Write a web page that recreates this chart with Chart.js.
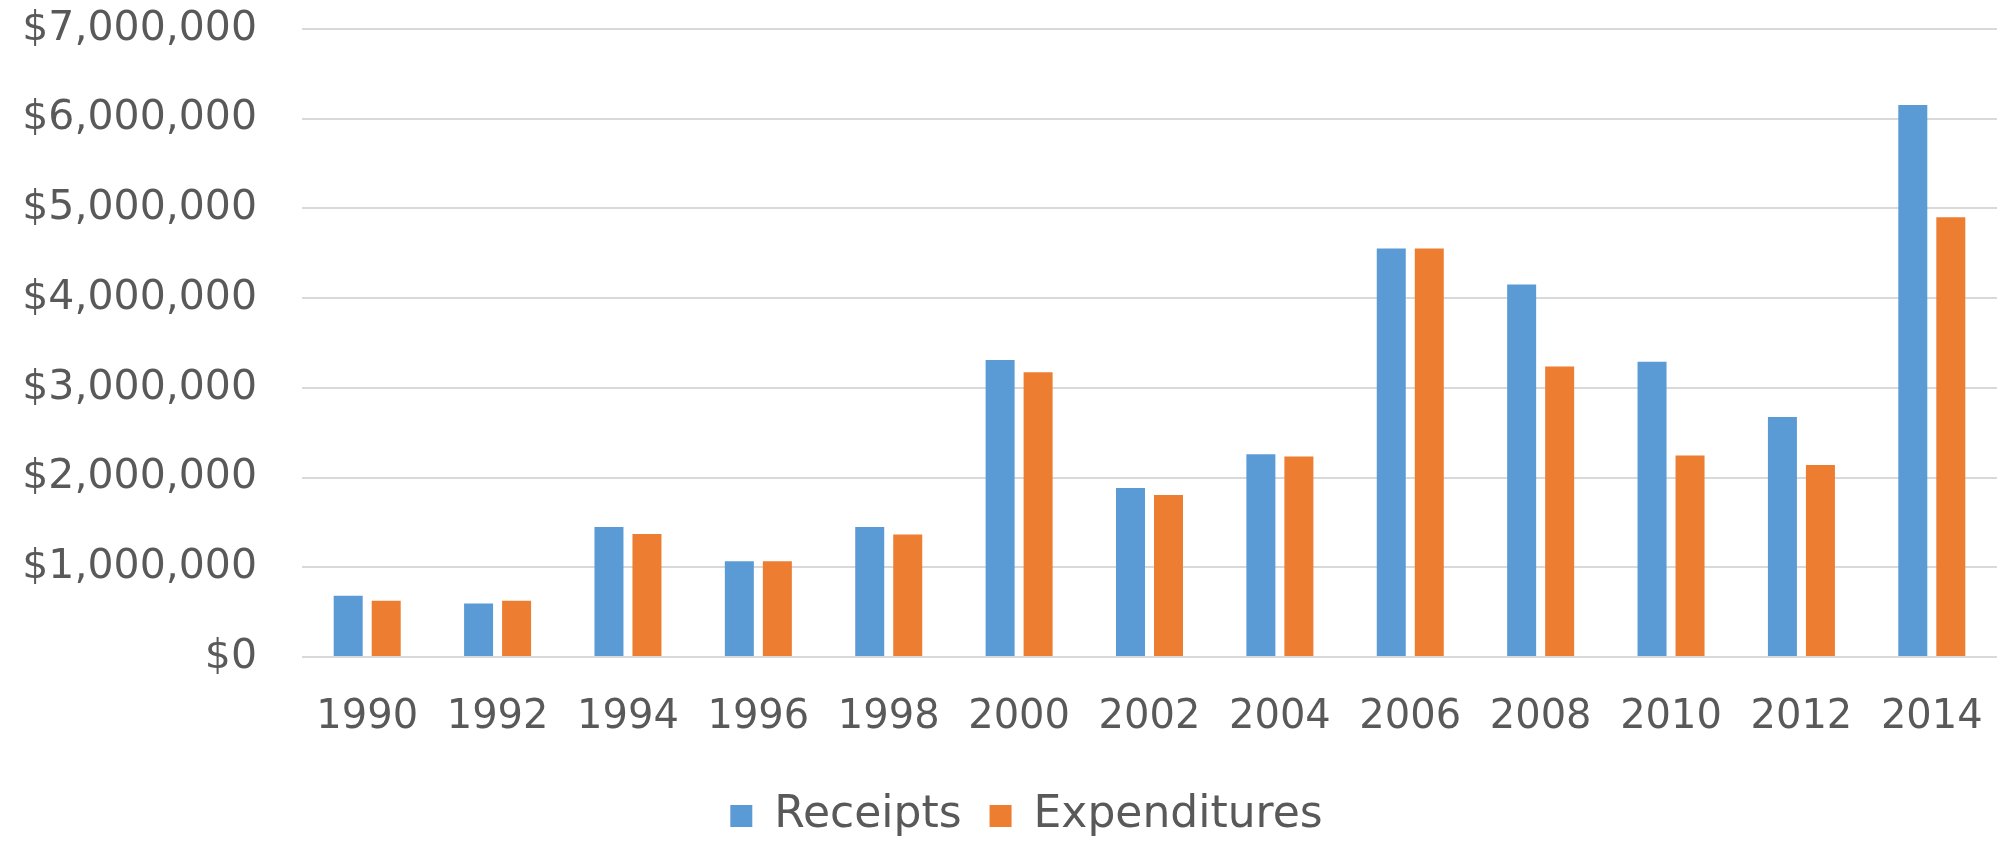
<!DOCTYPE html>
<html>
<head>
<meta charset="utf-8">
<script src="https://cdn.jsdelivr.net/npm/chart.js@4.4.0/dist/chart.umd.min.js"></script>
<style>
  body { margin: 0; background: #fff; }
  #wrap { width: 2010px; height: 843px; }
</style>
</head>
<body>
<div id="wrap"><canvas id="myBarChart" width="2010" height="843"></canvas></div>
<script>
var years = ['1990', '1992', '1994', '1996', '1998', '2000', '2002', '2004', '2006', '2008', '2010', '2012', '2014'];
var receipts = [683000, 597000, 1449000, 1068000, 1449000, 3310000, 1885000, 2260000, 4553000, 4152000, 3292000, 2675000, 6154000];
var expenditures = [627000, 627000, 1370000, 1068000, 1366000, 3175000, 1807000, 2234000, 4553000, 3237000, 2247000, 2139000, 4903000];

var textColor = '#595959';
var tickFont = { family: 'DejaVu Sans', size: 40 };

// nudge the legend a bit right/down like the original excel layout
var legendNudge = {
    id: 'legendNudge',
    afterLayout: function(chart) {
        var lg = chart.legend;
        lg.left += 28; lg.right += 28;
        lg.top += 5; lg.bottom += 5;
    }
};

var ctx = document.getElementById('myBarChart').getContext('2d');
var myBarChart = new Chart(ctx, {
    type: 'bar',
    data: {
        labels: years,
        datasets: [{
            label: 'Receipts',
            data: receipts,
            backgroundColor: '#5B9BD5'
        }, {
            label: 'Expenditures',
            data: expenditures,
            backgroundColor: '#ED7D31'
        }]
    },
    options: {
        responsive: false,
        animation: false,
        categoryPercentage: 0.583,
        barPercentage: 0.763,
        layout: {
            padding: { top: 29, right: 13, left: 0, bottom: 0 }
        },
        scales: {
            x: {
                grid: { display: false },
                border: { display: false },
                ticks: { color: textColor, font: tickFont, padding: 29, maxRotation: 0 },
                afterFit: function(scale) {
                    scale.height = 104;
                    scale.paddingLeft = 0;
                    scale.paddingRight = 0;
                }
            },
            y: {
                min: 0,
                max: 7000000,
                afterFit: function(scale) {
                    scale.width = 302;
                    scale.paddingTop = 0;
                    scale.paddingBottom = 0;
                },
                grid: { color: '#D9D9D9', lineWidth: 2, drawTicks: false },
                border: { display: false },
                ticks: {
                    stepSize: 1000000,
                    color: textColor,
                    font: { family: 'DejaVu Sans', size: 41 },
                    padding: 45,
                    callback: function(value) {
                        return '$' + value.toLocaleString('en-US');
                    }
                }
            }
        },
        plugins: {
            legend: {
                position: 'bottom',
                labels: {
                    color: textColor,
                    font: { family: 'DejaVu Sans', size: 44 },
                    boxWidth: 22,
                    boxHeight: 22,
                    padding: 28
                }
            },
            tooltip: { enabled: false }
        }
    },
    plugins: [legendNudge]
});
</script>
</body>
</html>
